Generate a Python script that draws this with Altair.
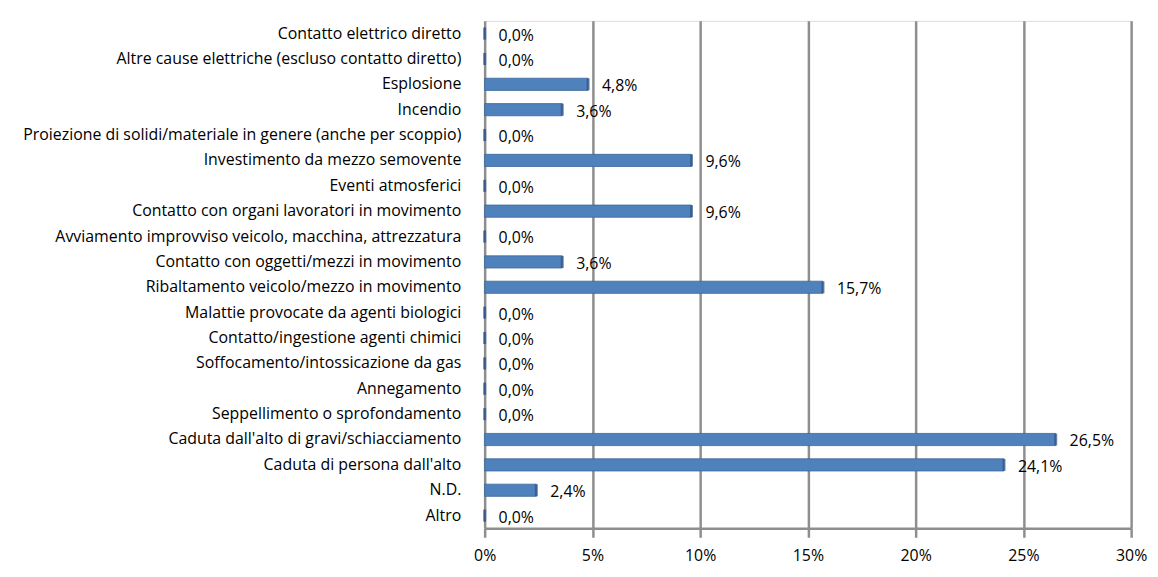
import altair as alt
import pandas as pd

categories = [
    "Contatto elettrico diretto",
    "Altre cause elettriche (escluso contatto diretto)",
    "Esplosione",
    "Incendio",
    "Proiezione di solidi/materiale in genere (anche per scoppio)",
    "Investimento da mezzo semovente",
    "Eventi atmosferici",
    "Contatto con organi lavoratori in movimento",
    "Avviamento improvviso veicolo, macchina, attrezzatura",
    "Contatto con oggetti/mezzi in movimento",
    "Ribaltamento veicolo/mezzo in movimento",
    "Malattie provocate da agenti biologici",
    "Contatto/ingestione agenti chimici",
    "Soffocamento/intossicazione da gas",
    "Annegamento",
    "Seppellimento o sprofondamento",
    "Caduta dall'alto di gravi/schiacciamento",
    "Caduta di persona dall'alto",
    "N.D.",
    "Altro",
]
values = [0.0, 0.0, 4.8, 3.6, 0.0, 9.6, 0.0, 9.6, 0.0, 3.6, 15.7, 0.0, 0.0, 0.0, 0.0, 0.0, 26.5, 24.1, 2.4, 0.0]
x_ticks = [0, 5, 10, 15, 20, 25, 30]

df = pd.DataFrame({"cat": categories, "v": values})

FONT = "Open Sans"

y_enc = alt.Y("cat:N", sort=categories, title=None,
              scale=alt.Scale(paddingInner=0.52, paddingOuter=0.26),
              axis=alt.Axis(ticks=False, domain=False, labelFontSize=16, labelFont=FONT,
                            labelColor="#000000", labelPadding=24, labelLimit=600))
x_scale = alt.Scale(domain=[0, 30], nice=False)

base = alt.Chart(df)

bars = base.mark_bar(color="#4F81BD", stroke="#3B6699", strokeWidth=0.8).encode(
    x=alt.X("v:Q", scale=x_scale, title=None,
            axis=alt.Axis(values=x_ticks, labelExpr="datum.value + '%'", grid=True,
                          gridColor="#8E8E8E", gridWidth=2.5, domainColor="#8E8E8E",
                          domainWidth=2.5, tickColor="#8E8E8E", tickWidth=2.5, tickSize=9,
                          labelFontSize=16, labelFont=FONT, labelColor="#000000",
                          labelPadding=10, labelFlush=False)),
    y=y_enc,
)

caps = base.mark_tick(color="#2F5486", thickness=3, size=12).encode(
    x=alt.X("v:Q", scale=x_scale),
    y=alt.Y("cat:N", sort=categories),
)

labels = base.transform_calculate(
    lab="replace(format(datum.v, '.1f'), '.', ',') + '%'"
).mark_text(align="left", baseline="middle", dx=14, dy=2, fontSize=16, font=FONT,
            color="#000000").encode(
    x=alt.X("v:Q", scale=x_scale),
    y=alt.Y("cat:N", sort=categories),
    text="lab:N",
)

chart = alt.layer(bars, caps, labels).properties(
    width=651, height=511,
    autosize=alt.AutoSizeParams(type="none"),
    padding={"left": 480, "top": 11, "right": 19, "bottom": 39},
).configure_view(stroke=None).configure(background="#ffffff")

chart.save("out.html", embed_options={"renderer": "svg", "actions": False})
